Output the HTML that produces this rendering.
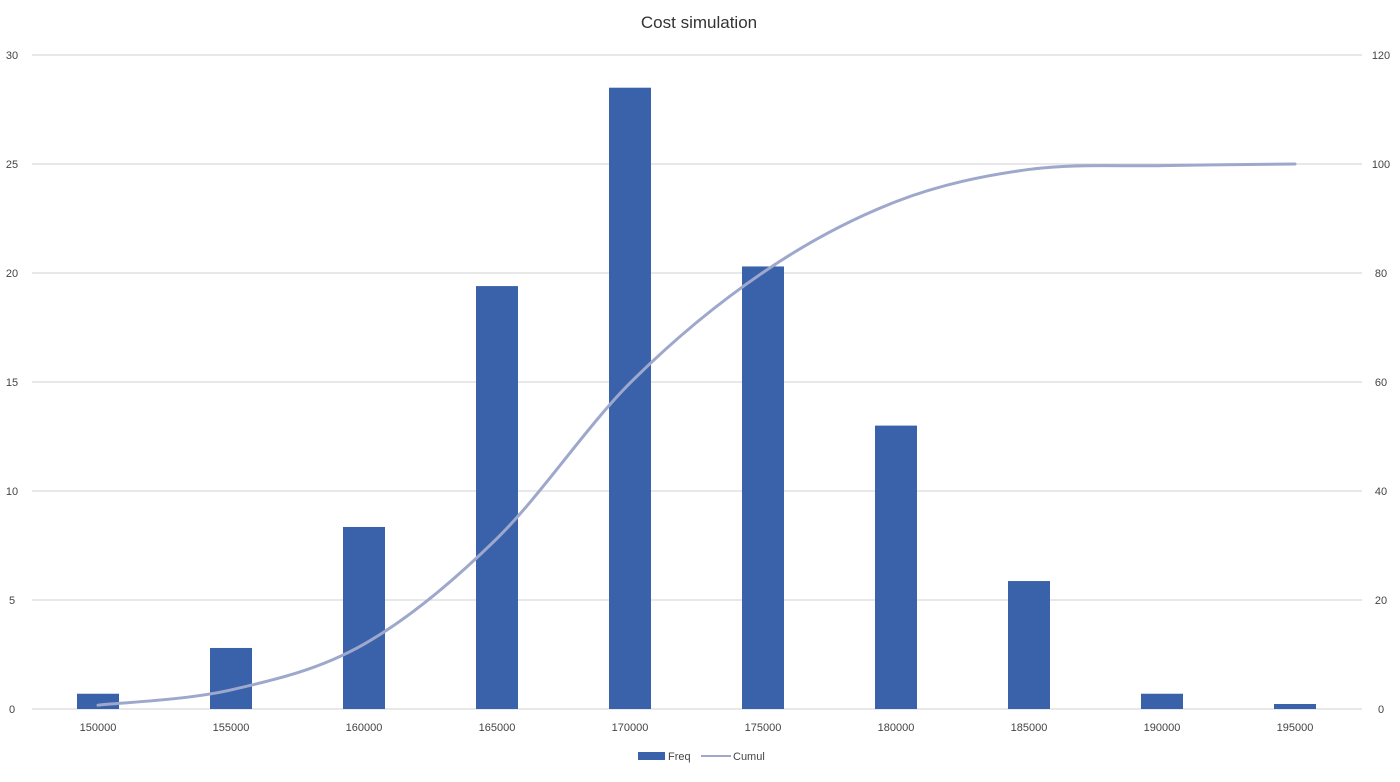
<!DOCTYPE html>
<html><head><meta charset="utf-8"><style>
body{margin:0;background:#fff;font-family:"Liberation Sans",sans-serif}
svg text{font-family:"Liberation Sans",sans-serif}
</style></head><body>
<svg id="chart" width="1400" height="777">
<text x="699" y="28" text-anchor="middle" font-size="17" fill="#333">Cost simulation</text>
<g id="grid"></g><g id="bars"></g><g id="line"></g><g id="axes"></g>
<g>
<rect x="638" y="752" width="27" height="8" fill="#3a62ab"/>
<text x="668" y="760" font-size="11" fill="#444">Freq</text>
<line x1="701" y1="756" x2="731" y2="756" stroke="#9ea8cc" stroke-width="2"/>
<text x="733" y="760" font-size="11" fill="#444">Cumul</text>
</g>
</svg>
<script>
const categories=[150000,155000,160000,165000,170000,175000,180000,185000,190000,195000];
const freq=[0.7,2.8,8.35,19.4,28.5,20.3,13.0,5.87,0.7,0.23];
const cumul=[0.7,3.5,11.9,31.3,59.8,80.1,93.1,99,99.7,100];
const leftTicks=[0,5,10,15,20,25,30];
const rightTicks=[0,20,40,60,80,100,120];
const NS="http://www.w3.org/2000/svg";
const x0=98,dx=133,yB=709,yT=55;
const xs=i=>x0+i*dx;
const yL=v=>yB-(yB-yT)*v/30;
const yR=v=>yB-(yB-yT)*v/120;
function mk(t,a,p){const e=document.createElementNS(NS,t);for(const k in a)e.setAttribute(k,a[k]);p.appendChild(e);return e;}
const g=document.getElementById('grid'),ax=document.getElementById('axes');
leftTicks.forEach((v,i)=>{
 const l=mk('line',{x1:32,x2:1362,y1:yL(v),y2:yL(v),stroke:'#d0d0d0','stroke-width':1},g);
 
 
 const t=mk('text',{x:12,y:yL(v)+4,'text-anchor':'middle','font-size':11,fill:'#444'},ax);t.textContent=v;
 
 
 const r=mk('text',{x:1381,y:yR(rightTicks[i])+4,'text-anchor':'middle','font-size':11,fill:'#444'},ax);r.textContent=rightTicks[i];
 
 
});
categories.forEach((c,i)=>{
 const t=mk('text',{x:xs(i),y:731,'text-anchor':'middle','font-size':11,fill:'#444'},ax);t.textContent=c;
 
 
});
const bg=document.getElementById('bars');
freq.forEach((v,i)=>{
 const b=mk('rect',{x:xs(i)-21,y:yL(v),width:42,height:yB-yL(v),fill:'#3a62ab'},bg);
 
 
});
const pts=cumul.map((v,i)=>[xs(i),yR(v)]);
let d='M'+pts[0][0]+','+pts[0][1];
for(let i=0;i<pts.length-1;i++){
 const p0=pts[Math.max(0,i-1)],p1=pts[i],p2=pts[i+1],p3=pts[Math.min(pts.length-1,i+2)];
 const c1=[p1[0]+(p2[0]-p0[0])/6,p1[1]+(p2[1]-p0[1])/6],c2=[p2[0]-(p3[0]-p1[0])/6,p2[1]-(p3[1]-p1[1])/6];
 d+=` C${c1[0]},${c1[1]} ${c2[0]},${c2[1]} ${p2[0]},${p2[1]}`;
}
const ln=mk('path',{d:d,fill:'none',stroke:'#9ea8cc','stroke-width':3,'stroke-linecap':'round'},document.getElementById('line'));


</script>
</body></html>
